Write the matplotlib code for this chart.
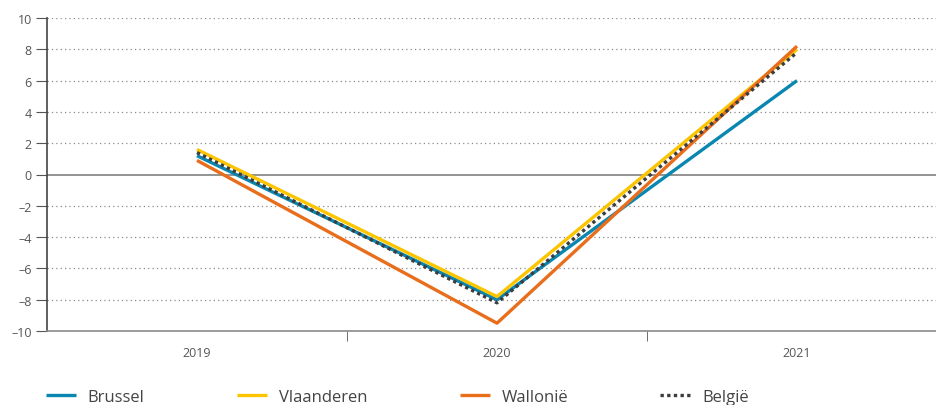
import numpy as np
import matplotlib
matplotlib.use("Agg")
import matplotlib.pyplot as plt

plt.rcParams['font.family'] = ['Open Sans', 'DejaVu Sans']

years = ['2019', '2020', '2021']
brussel = [1.2, -8.0, 6.0]
vlaanderen = [1.6, -7.8, 8.0]
wallonie = [0.9, -9.5, 8.2]
belgie = [1.4, -8.2, 7.8]

series = [
    ('Brussel', brussel, '#0a87b0', '-'),
    ('Vlaanderen', vlaanderen, '#fcc500', '-'),
    ('Wallonië', wallonie, '#e86e1c', '-'),
    ('België', belgie, '#3d3d3d', (0, (1, 1))),
]

fig = plt.figure(figsize=(9.37, 4.06), dpi=100)
ax = fig.add_axes([47/937, 74/406, 890/937, 313/406])

x = np.arange(len(years))
for name, vals, col, ls in series:
    ax.plot(x, vals, color=col, lw=2.4, ls=ls, label=name,
            solid_capstyle='butt')

ax.set_xlim(-0.5, 2.5 - 10/300)
ax.set_ylim(-10, 10)
ax.set_yticks(np.arange(-10, 11, 2))
ax.set_yticklabels([str(v).replace('-', '\u2013') for v in range(-10, 11, 2)])
for v in range(-8, 11, 2):
    if v != 0:
        ax.axhline(v, color='#8a8a8a', lw=0.9, ls=(0, (1, 2.5)), zorder=0)
ax.axhline(0, color='#8a8a8a', lw=1.3, zorder=0.5)

ax.set_xticks(x)
ax.set_xticklabels(years)
ax.set_xticks([0.5, 1.5], minor=True)
ax.tick_params(axis='x', which='major', length=0, pad=11, labelsize=9, labelcolor='#555555')
ax.tick_params(axis='x', which='minor', length=7, color='#555555', direction='out')
ax.tick_params(axis='y', length=8, color='#555555', labelsize=9, labelcolor='#555555', pad=3)

for s in ['top', 'right']:
    ax.spines[s].set_visible(False)
ax.spines['left'].set_color('#444444')
ax.spines['left'].set_linewidth(1.2)
ax.spines['bottom'].set_color('#8a8a8a')
ax.spines['bottom'].set_linewidth(1.2)

fig.legend(loc='lower left', bbox_to_anchor=(31/937, -0.036), ncol=4,
           frameon=False, fontsize=12, handlelength=1.8, handletextpad=0.7,
           columnspacing=5.55, labelcolor='#444444')

fig.savefig('out.png', dpi=100)
